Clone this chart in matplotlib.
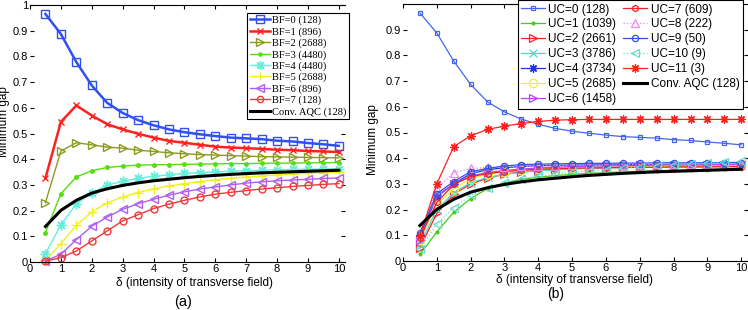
import matplotlib
matplotlib.use("Agg")
import matplotlib.pyplot as plt

plt.rcParams['font.family'] = ['Liberation Sans', 'DejaVu Sans']

delta = [0.5, 1.0, 1.5, 2.0, 2.5, 3.0, 3.5, 4.0, 4.5, 5.0,
         5.5, 6.0, 6.5, 7.0, 7.5, 8.0, 8.5, 9.0, 9.5, 10.0]

# ---- panel (a) ----
bf_labels = ["BF=0 (128)", "BF=1 (896)", "BF=2 (2688)", "BF=3 (4480)", "BF=4 (4480)",
             "BF=5 (2688)", "BF=6 (896)", "BF=7 (128)"]
BF0 = [0.965, 0.887, 0.778, 0.687, 0.619, 0.580, 0.552, 0.532, 0.516, 0.505,
       0.497, 0.490, 0.484, 0.481, 0.478, 0.472, 0.469, 0.463, 0.458, 0.452]
BF1 = [0.326, 0.545, 0.609, 0.570, 0.536, 0.516, 0.499, 0.484, 0.471, 0.464,
       0.456, 0.449, 0.445, 0.443, 0.440, 0.437, 0.435, 0.432, 0.430, 0.428]
BF2 = [0.231, 0.432, 0.464, 0.456, 0.447, 0.443, 0.435, 0.430, 0.425, 0.421,
       0.418, 0.416, 0.414, 0.412, 0.410, 0.409, 0.408, 0.407, 0.406, 0.405]
BF3 = [0.114, 0.266, 0.331, 0.355, 0.368, 0.373, 0.377, 0.378, 0.379, 0.380,
       0.381, 0.382, 0.383, 0.383, 0.384, 0.385, 0.385, 0.386, 0.386, 0.387]
BF4 = [0.032, 0.145, 0.225, 0.269, 0.299, 0.314, 0.325, 0.334, 0.339, 0.345,
       0.348, 0.351, 0.353, 0.356, 0.357, 0.359, 0.360, 0.361, 0.362, 0.363]
BF5 = [0.006, 0.071, 0.143, 0.195, 0.230, 0.253, 0.270, 0.285, 0.296, 0.305,
       0.313, 0.320, 0.326, 0.331, 0.335, 0.339, 0.342, 0.345, 0.348, 0.350]
BF6 = [0.004, 0.030, 0.087, 0.139, 0.175, 0.205, 0.227, 0.244, 0.260, 0.273,
       0.284, 0.292, 0.300, 0.307, 0.312, 0.316, 0.319, 0.322, 0.325, 0.327]
BF7 = [0.003, 0.017, 0.043, 0.082, 0.121, 0.160, 0.184, 0.208, 0.225, 0.240,
       0.253, 0.264, 0.271, 0.278, 0.284, 0.289, 0.294, 0.298, 0.302, 0.305]
CONV = [0.138, 0.201, 0.240, 0.268, 0.285, 0.298, 0.308, 0.316, 0.322, 0.328,
        0.333, 0.337, 0.341, 0.344, 0.347, 0.349, 0.351, 0.353, 0.355, 0.357]
conv_label = "Conv. AQC (128)"

# ---- panel (b) ----
uc_labels = ["UC=0 (128)", "UC=1 (1039)", "UC=2 (2661)", "UC=3 (3786)", "UC=4 (3734)",
             "UC=5 (2685)", "UC=6 (1458)", "UC=7 (609)", "UC=8 (222)", "UC=9 (50)",
             "UC=10 (9)", "UC=11 (3)"]
UC0 = [0.965, 0.887, 0.778, 0.687, 0.619, 0.580, 0.552, 0.532, 0.516, 0.505,
       0.497, 0.490, 0.484, 0.481, 0.478, 0.472, 0.469, 0.463, 0.458, 0.452]
UC1 = [0.026, 0.113, 0.190, 0.243, 0.282, 0.303, 0.318, 0.326, 0.332, 0.337,
       0.341, 0.344, 0.347, 0.349, 0.351, 0.353, 0.355, 0.356, 0.358, 0.360]
UC2 = [0.052, 0.185, 0.260, 0.300, 0.322, 0.338, 0.347, 0.352, 0.356, 0.359,
       0.361, 0.363, 0.364, 0.365, 0.366, 0.367, 0.367, 0.368, 0.368, 0.369]
UC3 = [0.065, 0.200, 0.266, 0.305, 0.325, 0.337, 0.345, 0.351, 0.355, 0.358,
       0.361, 0.363, 0.365, 0.367, 0.368, 0.369, 0.370, 0.371, 0.372, 0.373]
UC4 = [0.100, 0.250, 0.300, 0.340, 0.355, 0.363, 0.368, 0.371, 0.372, 0.373,
       0.374, 0.374, 0.375, 0.375, 0.375, 0.376, 0.376, 0.376, 0.376, 0.377]
UC5 = [0.080, 0.220, 0.280, 0.320, 0.338, 0.348, 0.354, 0.358, 0.361, 0.363,
       0.365, 0.366, 0.367, 0.368, 0.369, 0.369, 0.370, 0.370, 0.371, 0.371]
UC6 = [0.080, 0.255, 0.300, 0.330, 0.345, 0.352, 0.358, 0.362, 0.365, 0.367,
       0.369, 0.370, 0.371, 0.372, 0.373, 0.373, 0.374, 0.374, 0.375, 0.375]
UC7 = [0.090, 0.228, 0.298, 0.328, 0.340, 0.348, 0.353, 0.357, 0.359, 0.361,
       0.362, 0.363, 0.364, 0.365, 0.365, 0.366, 0.366, 0.366, 0.367, 0.367]
UC8 = [0.100, 0.280, 0.344, 0.360, 0.364, 0.366, 0.368, 0.370, 0.371, 0.372,
       0.373, 0.374, 0.375, 0.376, 0.376, 0.377, 0.377, 0.378, 0.378, 0.379]
UC9 = [0.110, 0.262, 0.309, 0.348, 0.360, 0.370, 0.375, 0.377, 0.378, 0.379,
       0.380, 0.380, 0.381, 0.381, 0.382, 0.382, 0.382, 0.383, 0.383, 0.383]
UC10 = [0.045, 0.143, 0.208, 0.255, 0.285, 0.305, 0.320, 0.330, 0.338, 0.345,
        0.351, 0.356, 0.361, 0.366, 0.370, 0.374, 0.378, 0.381, 0.384, 0.388]
UC11 = [0.098, 0.301, 0.445, 0.487, 0.512, 0.525, 0.535, 0.543, 0.548, 0.550,
        0.551, 0.551, 0.551, 0.551, 0.551, 0.551, 0.551, 0.551, 0.551, 0.551]

xticks = [0, 1, 2, 3, 4, 5, 6, 7, 8, 9, 10]
yticks_a = [0, 0.1, 0.2, 0.3, 0.4, 0.5, 0.6, 0.7, 0.8, 0.9, 1.0]
ylabels_a = ["0", "0.1", "0.2", "0.3", "0.4", "0.5", "0.6", "0.7", "0.8", "0.9", "1"]
yticks_b = [0, 0.1, 0.2, 0.3, 0.4, 0.5, 0.6, 0.7, 0.8, 0.9]
ylabels_b = ["0", "0.1", "0.2", "0.3", "0.4", "0.5", "0.6", "0.7", "0.8", "0.9"]

W, H = 748, 310
fig = plt.figure(figsize=(W / 100, H / 100), dpi=100)


def px_axes(l, r, t, b):
    return fig.add_axes([l / W, 1 - b / H, (r - l) / W, (b - t) / H])


def style(ax, yt, yl):
    ax.set_xlim(0, 10.2)
    ax.set_ylim(0, 1.0)
    ax.set_xticks(xticks)
    ax.set_xticklabels([str(v) for v in xticks])
    ax.set_yticks(yt)
    ax.set_yticklabels(yl)
    ax.tick_params(direction='in', length=3, width=0.8, labelsize=8, pad=1.5,
                   top=True, right=True, colors='black')
    ax.spines['left'].set_visible(False)
    ax.spines['right'].set_visible(False)
    for s in ('top', 'bottom'):
        ax.spines[s].set_linewidth(0.8)


# ---------------- (a) ----------------
axa = px_axes(30, 345, 5, 262)
style(axa, yticks_a, ylabels_a)
bf_series = [BF0, BF1, BF2, BF3, BF4, BF5, BF6, BF7]
bf_colors = ['#3050f0', '#ff2020', '#8c9a20', '#55dd11', '#66eedd', '#f0f020', '#b060f0', '#f03838']
bf_markers = ['s', 'x', '>', '.', (8, 2, 0), '+', '<', 'o']
bf_lw = [1.8, 1.8, 1.0, 1.0, 1.0, 1.0, 1.0, 1.0]
bf_ms = [6, 5, 6, 5, 7, 7, 6, 5]
handles_a = []
for ys, c, m, lw, ms, lab in zip(bf_series, bf_colors, bf_markers, bf_lw, bf_ms, bf_labels):
    h, = axa.plot(delta, ys, color=c, marker=m, lw=lw, ms=ms, mfc='none' if m != '.' else c,
                  mew=1.0, label=lab, clip_on=False)
    handles_a.append(h)
hc, = axa.plot(delta, CONV, color='black', lw=2.2, label=conv_label)
handles_a.append(hc)
leg_a = fig.legend(handles=handles_a, loc='upper left',
                   bbox_to_anchor=(247 / W, 1 - 13 / H), bbox_transform=fig.transFigure,
                   prop={'family': 'Liberation Serif', 'size': 7.6},
                   handlelength=1.9, handletextpad=0.2, labelspacing=0.17,
                   borderpad=0.25, borderaxespad=0, fancybox=False, framealpha=1,
                   edgecolor='black', markerscale=0.9)
leg_a.get_frame().set_linewidth(0.8)

fig.text(4.5 / W, 1 - 122 / H, "Minimum gap", rotation=90, ha='center', va='center', fontsize=8.5)
fig.text(194 / W, 1 - 283 / H, "\u03b4 (intensity of transverse field)", ha='center', va='center', fontsize=8.5)
fig.text(183 / W, 1 - 302 / H, "(a)", ha='center', va='center', fontsize=10.5)

# ---------------- (b) ----------------
axb = px_axes(403, 748, 4, 261)
style(axb, yticks_b, ylabels_b)
uc_series = [UC0, UC1, UC2, UC3, UC4, UC5, UC6, UC7, UC8, UC9, UC10, UC11]
uc_colors = ['#4466ee', '#44cc11', '#ff2020', '#44ddcc', '#2233dd', '#eeee44', '#bb44ee',
             '#ee2222', '#ee88ee', '#3355dd', '#66ddcc', '#ff2020']
uc_markers = ['s', '.', '>', 'x', (8, 2, 0), 'o', '>', 'h', '^', 'o', '<', (8, 2, 0)]
uc_ls = ['-', '-', '-', '-', '-', '-', '-', '-', ':', '-', ':', '-']
uc_ms = [3.5, 4, 6, 6, 6, 6, 6, 4.5, 6, 4.5, 6, 6]
handles_b = []
for ys, c, m, ls, ms, lab in zip(uc_series, uc_colors, uc_markers, uc_ls, uc_ms, uc_labels):
    h, = axb.plot(delta, ys, color=c, marker=m, ls=ls, lw=0.9, ms=ms,
                  mfc='none' if m != '.' else c, mew=0.9, label=lab, clip_on=False)
    handles_b.append(h)
hcb, = axb.plot(delta, CONV, color='black', lw=2.2, label=conv_label)
handles_b.append(hcb)
leg_b = fig.legend(handles=handles_b, loc='upper right', ncol=2,
                   bbox_to_anchor=(743 / W, 1 - 0 / H), bbox_transform=fig.transFigure,
                   prop={'family': 'Liberation Sans', 'size': 8.5},
                   handlelength=2.0, handletextpad=0.3, labelspacing=0.25, columnspacing=0.6,
                   borderpad=0.3, borderaxespad=0, fancybox=False, framealpha=1,
                   edgecolor='black')
leg_b.get_frame().set_linewidth(0.8)

fig.text(373 / W, 1 - 140 / H, "Minimum gap", rotation=90, ha='center', va='center', fontsize=8.5)
fig.text(574 / W, 1 - 280 / H, "\u03b4 (intensity of transverse field)", ha='center', va='center', fontsize=8.5)
fig.text(556 / W, 1 - 294 / H, "(b)", ha='center', va='center', fontsize=10)

fig.savefig("out.png", dpi=100)
